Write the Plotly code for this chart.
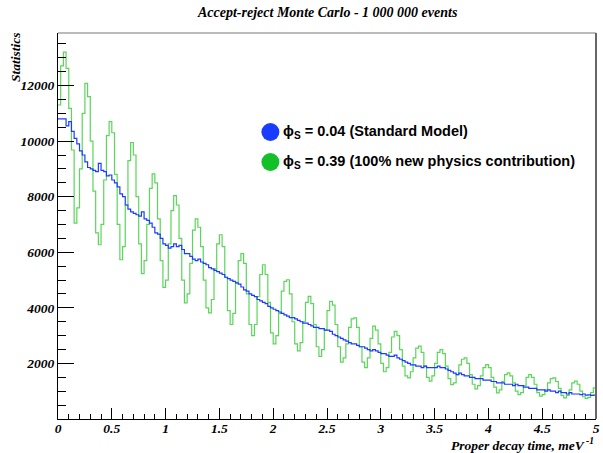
import numpy as np
import plotly.graph_objects as go

BIN_WIDTH = 0.025

blue_counts = [
    10800, 10800, 10800, 10550, 10700, 10350, 10100, 9900, 9650, 9500,
    9250, 9050, 9000, 8950, 8900, 9200, 8950, 8900, 8750, 8780,
    8600, 8500, 8350, 8100, 8000, 7700, 7550, 7450, 7400, 7350,
    7300, 7450, 7200, 7150, 7050, 6900, 6700, 6650, 6500, 6300,
    6250, 6150, 6200, 6300, 6200, 6250, 6100, 5950, 5950, 5850,
    5750, 5700, 5750, 5650, 5600, 5550, 5450, 5400, 5350, 5300,
    5250, 5200, 5100, 5050, 5000, 4950, 4900, 4850, 4750, 4650,
    4600, 4500, 4450, 4400, 4300, 4250, 4200, 4150, 4050, 4000,
    3950, 3900, 3850, 3800, 3750, 3700, 3650, 3650, 3600, 3550,
    3500, 3450, 3450, 3400, 3350, 3300, 3300, 3250, 3250, 3200,
    3200, 3150, 3050, 3000, 2950, 2900, 2850, 2800, 2750, 2700,
    2700, 2650, 2600, 2600, 2550, 2500, 2450, 2500, 2450, 2400,
    2350, 2350, 2300, 2250, 2250, 2300, 2200, 2150, 2100, 2050,
    2000, 1950, 1950, 1900, 1900, 1850, 1900, 1850, 1850, 1850,
    1850, 1900, 1850, 1850, 1800, 1750, 1700, 1650, 1600, 1650,
    1600, 1550, 1550, 1500, 1500, 1450, 1450, 1450, 1400, 1400,
    1400, 1350, 1350, 1300, 1300, 1300, 1250, 1250, 1250, 1200,
    1250, 1200, 1200, 1150, 1150, 1100, 1100, 1100, 1050, 1050,
    1050, 1000, 1050, 1000, 1000, 950, 1000, 950, 950, 900,
    950, 900, 900, 900, 880, 900, 860, 870, 850, 860,
]

green_counts = [
    11300, 12710, 13200, 12620, 11180, 9680, 7050, 7600, 9000, 11000,
    12080, 11600, 10000, 8200, 6700, 6270, 7000, 8600, 10200, 10700,
    10300, 8800, 7000, 5730, 6200, 7700, 9300, 9950, 9500, 8000,
    6300, 5230, 5700, 7000, 8300, 8820, 8500, 7200, 5700, 4740,
    5000, 6300, 7500, 8040, 7700, 6500, 5000, 4180, 4500, 5600,
    6800, 7200, 6900, 6200, 5000, 4000, 3820, 4300, 5400, 6300,
    6630, 6200, 5100, 3900, 3400, 3800, 4900, 5700, 5950, 5600,
    4500, 3400, 3000, 3400, 4400, 5200, 5550, 5200, 4200, 3100,
    2700, 3000, 3800, 4600, 4950, 5010, 4500, 3500, 2700, 2450,
    2750, 3500, 4200, 4410, 4150, 3400, 2600, 2250, 2500, 3200,
    3900, 4230, 4100, 3400, 2600, 2050, 2200, 2700, 3300, 3600,
    3640, 3300, 2600, 2050, 1850, 2200, 2900, 3340, 3200, 2700,
    2000, 1700, 1850, 2400, 2950, 3150, 3000, 2500, 1900, 1550,
    1480, 1700, 2200, 2550, 2620, 2400, 1900, 1500, 1360, 1550,
    2000, 2400, 2500, 2350, 1900, 1450, 1240, 1300, 1600, 1950,
    2150, 2200, 2000, 1600, 1250, 1085, 1200, 1550, 1850, 1960,
    1850, 1500, 1150, 940, 1050, 1350, 1600, 1660, 1550, 1300,
    1000, 880, 950, 1200, 1500, 1600, 1500, 1250, 950, 820,
    880, 1050, 1300, 1450, 1480, 1350, 1100, 850, 760, 850,
    1050, 1300, 1360, 1250, 1000, 800, 740, 780, 950, 1120,
]

x_tickvals = [0, 0.5, 1, 1.5, 2, 2.5, 3, 3.5, 4, 4.5, 5]
x_ticktext = ["0", "0.5", "1", "1.5", "2", "2.5", "3", "3.5", "4", "4.5", "5"]
y_tickvals = [2000, 4000, 6000, 8000, 10000, 12000]
y_ticktext = ["2000", "4000", "6000", "8000", "10000", "12000"]

legend_labels = ["ϕ<sub>S</sub> = 0.04 (Standard Model)",
                 "ϕ<sub>S</sub> = 0.39 (100% new physics contribution)"]
legend_colors = ["#1a3cff", "#14c028"]

title_text = "Accept-reject Monte Carlo - 1 000 000 events"
xtitle_text = "Proper decay time, meV<sup> -1</sup>"
ytitle_text = "Statistics"

edges = np.arange(len(blue_counts) + 1) * BIN_WIDTH

def step_y(vals):
    return list(vals) + [vals[-1]]

fig = go.Figure()
fig.add_trace(go.Scatter(x=edges, y=step_y(green_counts), mode="lines",
                         line=dict(shape="hv", color="#5ad65a", width=1.2),
                         hoverinfo="skip", showlegend=False))
fig.add_trace(go.Scatter(x=edges, y=step_y(blue_counts), mode="lines",
                         line=dict(shape="hv", color="#1a3cff", width=1.2),
                         hoverinfo="skip", showlegend=False))

def serif_bi(size):
    return dict(family="Liberation Serif", size=size, color="black",
                weight="bold", style="italic")

fig.update_layout(
    width=603, height=453,
    margin=dict(l=58, r=3, t=33, b=34),
    paper_bgcolor="white", plot_bgcolor="white",
    showlegend=False,
    xaxis=dict(range=[0, 5], showgrid=False, zeroline=False,
               showline=True, linecolor="black", linewidth=1,
               ticks="inside", ticklen=11, tickwidth=1, tickcolor="black",
               tickvals=x_tickvals, ticktext=x_ticktext,
               tickfont=serif_bi(13.5), ticklabeloverflow="allow",
               ticklabelstandoff=-3,
               minor=dict(dtick=0.1, tick0=0, ticks="inside", ticklen=5,
                          tickwidth=1, tickcolor="black", showgrid=False)),
    yaxis=dict(range=[0, 13890], showgrid=False, zeroline=False,
               showline=True, linecolor="black", linewidth=1,
               ticks="inside", ticklen=16, tickwidth=1, tickcolor="black",
               tickvals=y_tickvals, ticktext=y_ticktext,
               tickfont=serif_bi(13.5), ticklabeloverflow="allow",
               minor=dict(dtick=500, tick0=0, ticks="inside", ticklen=8,
                          tickwidth=1, tickcolor="black", showgrid=False)),
)

# frame top and right
fig.add_shape(type="line", xref="paper", yref="paper", x0=0, x1=1, y0=1, y1=1,
              line=dict(color="#777777", width=1))
fig.add_shape(type="line", xref="paper", yref="paper", x0=1, x1=1, y0=0, y1=1,
              line=dict(color="#666666", width=2))

# title
fig.add_annotation(text=title_text, xref="paper", yref="paper", x=0.5, y=1,
                   yshift=21, showarrow=False, xanchor="center", yanchor="middle",
                   font=serif_bi(14))
# axis titles
fig.add_annotation(text=xtitle_text, xref="paper", yref="paper", x=1, y=0,
                   yshift=-25, showarrow=False, xanchor="right", yanchor="middle",
                   font=serif_bi(13.5))
fig.add_annotation(text=ytitle_text, xref="paper", yref="paper", x=0, y=0.9378,
                   xshift=-43, showarrow=False, xanchor="center", yanchor="middle",
                   textangle=-90, font=serif_bi(13.5))

# legend
leg_y = [0.7435, 0.6658]
for lab, col, yy in zip(legend_labels, legend_colors, leg_y):
    fig.add_shape(type="circle", xref="paper", yref="paper",
                  xsizemode="pixel", ysizemode="pixel",
                  xanchor=0.3948, yanchor=yy, x0=-9, x1=9, y0=-9, y1=9,
                  fillcolor=col, line=dict(color=col, width=0))
    fig.add_annotation(text=lab, xref="paper", yref="paper", x=0.4151, y=yy,
                       showarrow=False, xanchor="left", yanchor="middle",
                       font=dict(family="Liberation Sans", size=14.5, color="black",
                                 weight="bold"))

fig.write_html("out.html")
